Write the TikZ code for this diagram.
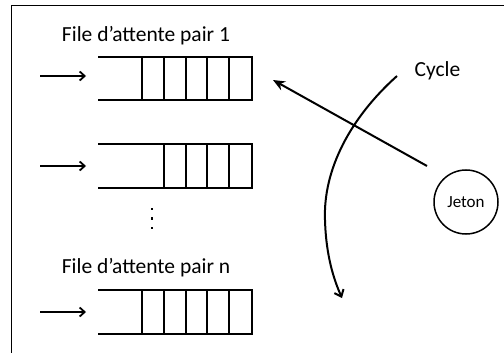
\documentclass[tikz,border=0pt]{standalone}
\usepackage{fontspec}
\setmainfont{Carlito}
\usetikzlibrary{arrows.meta}
\begin{document}
\begin{tikzpicture}[x=1pt,y=-1pt,
  qline/.style={line width=1.6pt},
  inarrow/.style={line width=1.8pt,-{Straight Barb[length=5pt,width=9pt,line width=1.8pt]}},
  lbl/.style={font=\fontsize{21.5}{25}\selectfont,inner sep=0pt},
  dotmark/.style={fill=black,minimum size=2.2pt,inner sep=0pt}]
\useasboundingbox (0,0) rectangle (504,353);
\draw[line width=1.2pt] (11.5,353) -- (11.5,5.5) -- (504,5.5);
% queue 1
\draw[qline] (98,57) -- (252,57) -- (252,100) -- (98,100);
\foreach \x in {142,164,186,207,229} \draw[qline] (\x,57) -- (\x,100);
% queue 2
\draw[qline] (98,144) -- (252,144) -- (252,188) -- (98,188);
\foreach \x in {164,186,207,229} \draw[qline] (\x,144) -- (\x,188);
% queue n
\draw[qline] (98,290) -- (252,290) -- (252,334) -- (98,334);
\foreach \x in {142,164,186,207,229} \draw[qline] (\x,290) -- (\x,334);
% labels
\node[lbl] (l1) at (146,36) {File d’attente pair 1};
\node[lbl] (ln) at (146,268) {File d’attente pair n};
\node[lbl] (cyc) at (437.5,71) {Cycle};
% input arrows
\coordinate (a1s) at (40,76); \coordinate (a1e) at (86,76);
\coordinate (a2s) at (40,166); \coordinate (a2e) at (86,166);
\coordinate (a3s) at (40,312); \coordinate (a3e) at (86,312);
\draw[inarrow] (a1s) -- (a1e);
\draw[inarrow] (a2s) -- (a2e);
\draw[inarrow] (a3s) -- (a3e);
% dots
\node[dotmark] (d1) at (152,209) {};
\node[dotmark] (d2) at (152,218.5) {};
\node[dotmark] (d3) at (152,228) {};
% jeton
\node[draw,circle,line width=1.5pt,minimum size=64pt,inner sep=0pt,font=\fontsize{17}{20}\selectfont] (jeton) at (466,202) {Jeton};
% token arrow
\coordinate (ts) at (427,166); \coordinate (te) at (273,80);
\draw[line width=2pt,-{Stealth[length=12pt,width=10pt]}] (ts) -- (te);
% cycle arrow
\coordinate (cs) at (397,76); \coordinate (cm) at (325,220); \coordinate (ce) at (342,298);
\draw[line width=2pt,-{Straight Barb[length=6pt,width=10pt,line width=2pt]}] (cs) .. controls (350,118) and (323,170) .. (cm) .. controls (326,256) and (334,280) .. (ce);
\end{tikzpicture}
\end{document}
